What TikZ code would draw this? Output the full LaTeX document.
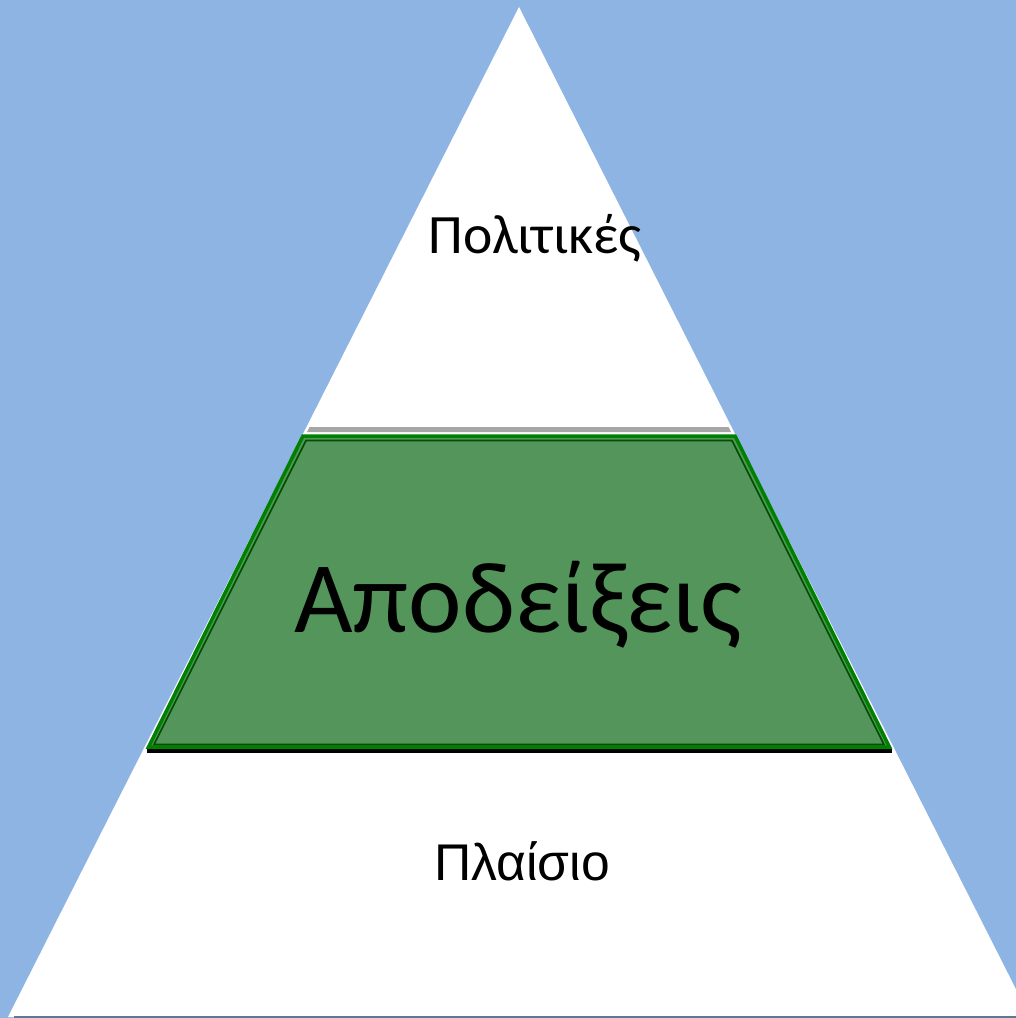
\documentclass[tikz,border=0pt]{standalone}
\usepackage{fontspec}
\setmainfont{Carlito}
\newfontfamily\labelfont{Liberation Sans}
\usetikzlibrary{positioning}
\definecolor{skyblue}{HTML}{8EB4E3}
\definecolor{layergreen}{HTML}{53955A}
\definecolor{edgegreen}{HTML}{008000}
\definecolor{darkgreen}{HTML}{005000}
\definecolor{stripegray}{HTML}{A6A6A6}
\definecolor{baseslate}{HTML}{5F7890}

\begin{document}
\begin{tikzpicture}[
    x=0.025cm, y=-0.025cm,
    layer/.style={fill=layergreen, draw=edgegreen, line width=3.5*0.7113pt, line join=miter},
    inner/.style={draw=darkgreen, line width=1.6*0.7113pt},
    title/.style={anchor=base, inner sep=0pt, text=black},
]

% Background
\fill[skyblue] (0,0) rectangle (1016,1018);
\useasboundingbox (0,0) rectangle (1016,1018);

% Pyramid
\fill[white] (519,7) -- (1030,1017) -- (8,1017) -- cycle;
\fill[baseslate] (14,1015.5) rectangle (1016,1018);

% Separator under the top part
\fill[stripegray] (309.5,427) -- (728.5,427) -- (731,432) -- (307,432) -- cycle;

% Middle layer
\fill[black] (147,748) rectangle (892,753);
\draw[layer] (303,436) -- (735,436) -- (889.5,747) -- (148.5,747) -- cycle;
\draw[inner] (306,440.5) -- (732,440.5) -- (884,744.5) -- (154,744.5) -- cycle;

% Labels
\node[title, font=\fontsize{39.5}{42}\selectfont] (top) at (535,253) {Πολιτικές};
\node[title, font=\fontsize{72}{76}\selectfont] (mid) at (518,632) {Αποδείξεις};
\node[title, font=\labelfont\fontsize{36.7}{40}\selectfont] (bot) at (522,880) {Πλαίσιο};

\end{tikzpicture}
\end{document}
